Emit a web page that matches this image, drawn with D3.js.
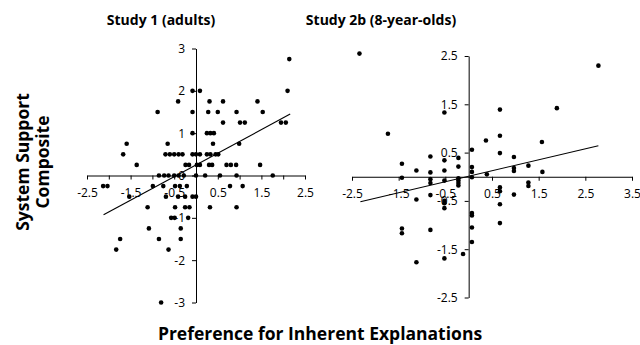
<!DOCTYPE html>
<html lang="en">
<meta charset="utf-8">
<title>System Support vs Preference for Inherent Explanations</title>
<script src="https://d3js.org/d3.v7.min.js"></script>
<body>
<div id="chart"></div>
</body>
<style>
body {
  margin: 0;
  background-color: white;
}
.tick text {
  font-family: "Open Sans", sans-serif;
  font-size: 12px;
  fill: black;
}
.tick line, .domain {
  stroke: black;
  stroke-width: 1px;
}
.panelTitle {
  font-family: "Open Sans", sans-serif;
  font-weight: bold;
  font-size: 14px;
}
.axisTitle {
  font-family: "Open Sans", sans-serif;
  font-weight: bold;
  font-size: 17.5px;
}
</style>
<script>
// ---------------------------//
//       DATA                 //
// ---------------------------//

// Study 1 (adults): [preference for inherent explanations, system support]
const study1Points = [
  [2.14, 2.75],
  [-0.08, 2.0], [0.09, 2.0], [2.10, 2.0],
  [-0.41, 1.75], [0.31, 1.75], [0.62, 1.75], [1.41, 1.75],
  [-0.88, 1.5], [-0.08, 1.5], [0.28, 1.5], [0.50, 1.5], [0.93, 1.5], [1.53, 1.5],
  [0.62, 1.25], [1.01, 1.25], [1.12, 1.25], [1.95, 1.25], [2.06, 1.25],
  [-0.08, 1.0], [0.25, 1.0], [0.33, 1.0], [0.41, 1.0],
  [-1.59, 0.75], [-0.65, 0.75], [0.39, 0.75], [0.99, 0.75],
  [-1.67, 0.5], [-0.70, 0.5], [-0.60, 0.5], [-0.50, 0.5], [-0.40, 0.5], [-0.31, 0.5],
  [-0.08, 0.5], [0.0, 0.5], [0.09, 0.5], [0.25, 0.5], [0.33, 0.5], [0.45, 0.5], [0.51, 0.5],
  [-1.36, 0.25], [-0.24, 0.25], [-0.16, 0.25], [0.02, 0.25], [0.09, 0.25], [0.30, 0.25],
  [0.37, 0.25], [0.70, 0.25], [0.80, 0.25], [0.92, 0.25], [1.47, 0.25],
  [-0.85, 0], [-0.73, 0], [-0.63, 0], [-0.50, 0], [-0.40, 0], [-0.28, 0], [0.0, 0],
  [0.21, 0], [0.55, 0], [0.93, 0], [1.76, 0],
  [-2.13, -0.25], [-2.03, -0.25], [-0.99, -0.25], [-0.75, -0.25], [-0.48, -0.25],
  [-0.37, -0.25], [-0.21, -0.25], [0.78, -0.25], [1.07, -0.25],
  [-1.53, -0.5], [-0.69, -0.5], [-0.41, -0.5], [-0.25, -0.5], [-0.08, -0.5], [0.0, -0.5],
  [-1.11, -0.75], [-0.48, -0.75], [-0.25, -0.75], [-0.15, -0.75], [0.32, -0.75], [0.93, -0.75],
  [-0.57, -1.0], [-0.49, -1.0], [-0.18, -1.0],
  [-1.08, -1.25], [-0.35, -1.25],
  [-1.74, -1.5], [-0.85, -1.5], [-0.35, -1.5],
  [-1.83, -1.75], [-0.63, -1.75],
  [-0.80, -3.0]
];

// Study 2b (8-year-olds)
const study2Points = [
  [-2.34, 2.55], [2.78, 2.30], [1.89, 1.42], [0.67, 1.39], [-0.52, 1.33],
  [-1.73, 0.89], [0.37, 0.75], [0.67, 0.85], [1.57, 0.72], [0.07, 0.56], [0.67, 0.49],
  [-1.43, 0.27], [-1.12, 0.13], [-0.82, 0.42], [-0.82, 0.09], [-0.82, -0.05], [-0.82, -0.13],
  [-0.52, 0.34], [-0.52, 0.13], [-0.52, -0.08],
  [-0.22, 0.39], [-0.22, 0.21], [-0.22, -0.03], [-0.22, -0.08], [-0.22, -0.13], [-0.22, -0.18],
  [0.07, 0.20], [0.07, 0.10], [0.07, -0.01], [0.39, 0.05],
  [0.97, 0.41], [0.97, 0.18], [0.97, 0.12], [1.28, 0.23], [1.58, 0.10], [-1.43, -0.02],
  [1.28, -0.12], [1.28, -0.19], [0.67, -0.22], [0.67, -0.30], [0.97, -0.37],
  [0.67, -0.57], [0.67, -0.96],
  [-1.12, -0.47], [-0.82, -0.38], [-0.52, -0.50], [-0.52, -0.55], [-0.52, -0.65],
  [0.07, -0.75], [0.07, -0.80], [0.07, -1.05], [0.07, -1.35],
  [-1.43, -1.07], [-1.43, -1.17], [-0.82, -1.10],
  [-0.12, -1.60], [-0.52, -1.69], [-1.12, -1.77]
];

// Linear trend lines: [slope, intercept, xFrom, xTo]
const study1Fit = [0.556, 0.25, -2.12, 2.16];
const study2Fit = [0.227, 0.01, -2.32, 2.78];

// Tick values and which of them get a label
const study1XTicks = [-2.5, -2, -1.5, -1, -0.5, 0, 0.5, 1, 1.5, 2, 2.5];
const study1XLabels = [-2.5, -1.5, -0.5, 0.5, 1.5, 2.5];
const study1YTicks = [-3, -2, -1, 0, 1, 2, 3];
const study2XTicks = [-2.5, -1.5, -0.5, 0.5, 1.5, 2.5, 3.5];
const study2YTicks = [-2.5, -1.5, -0.5, 0.5, 1.5, 2.5];

const panelTitles = ["Study 1 (adults)", "Study 2b (8-year-olds)"];
const yTitleLines = ["System Support", "Composite"];
const xTitle = "Preference for Inherent Explanations";

// ---------------------------//
//       SVG                  //
// ---------------------------//
let width = 640, height = 345;

let svg = d3.select("#chart")
  .append("svg")
    .attr("width", width)
    .attr("height", height);

// draws one scatter panel with axes crossing at zero
function drawPanel(p) {
  let x = d3.scaleLinear().domain(p.xDomain).range(p.xRange);
  let y = d3.scaleLinear().domain(p.yDomain).range(p.yRange);
  let g = svg.append("g");

  // X axis through y = 0
  g.append("g")
    .attr("transform", "translate(0," + y(0) + ")")
    .call(d3.axisBottom(x)
      .tickValues(p.xTicks)
      .tickSizeInner(4).tickSizeOuter(0).tickPadding(9)
      .tickFormat(d => p.xLabels.includes(d) ? String(d) : ""));

  // Y axis through x = 0
  g.append("g")
    .attr("transform", "translate(" + x(0) + ",0)")
    .call(d3.axisLeft(y)
      .tickValues(p.yTicks)
      .tickSizeInner(4).tickSizeOuter(0).tickPadding(7)
      .tickFormat(d => String(d)));

  // dots
  g.append("g")
    .selectAll("circle")
    .data(p.points)
    .enter()
    .append("circle")
      .attr("cx", d => x(d[0]))
      .attr("cy", d => y(d[1]))
      .attr("r", 2.3)
      .style("fill", "black");

  // trend line
  let fit = p.fit;
  g.append("line")
    .attr("x1", x(fit[2]))
    .attr("y1", y(fit[0] * fit[2] + fit[1]))
    .attr("x2", x(fit[3]))
    .attr("y2", y(fit[0] * fit[3] + fit[1]))
    .style("stroke", "black")
    .style("stroke-width", 1.1);

  // title
  svg.append("text")
    .attr("class", "panelTitle")
    .attr("text-anchor", "middle")
    .attr("x", p.titleX)
    .attr("y", 25)
    .text(p.title);
}

drawPanel({
  points: study1Points, fit: study1Fit,
  xDomain: [-2.5, 2.5], xRange: [87, 305],
  yDomain: [-3, 3], yRange: [302.5, 48.5],
  xTicks: study1XTicks, xLabels: study1XLabels, yTicks: study1YTicks,
  title: panelTitles[0], titleX: 161
});

drawPanel({
  points: study2Points, fit: study2Fit,
  xDomain: [-2.5, 3.5], xRange: [352, 632],
  yDomain: [-2.5, 2.5], yRange: [297.5, 56],
  xTicks: study2XTicks, xLabels: study2XTicks, yTicks: study2YTicks,
  title: panelTitles[1], titleX: 381
});

// ---------------------------//
//       AXIS TITLES          //
// ---------------------------//
svg.append("text")
  .attr("class", "axisTitle")
  .attr("text-anchor", "middle")
  .attr("x", 320)
  .attr("y", 340)
  .text(xTitle);

// vertical title, two lines reading bottom to top
svg.selectAll(".yTitle")
  .data(yTitleLines)
  .enter()
  .append("text")
    .attr("class", "axisTitle")
    .attr("text-anchor", "middle")
    .attr("transform", (d, i) => "translate(" + (29 + i * 20) + ",162) rotate(-90)")
    .text(d => d);
</script>
</html>
